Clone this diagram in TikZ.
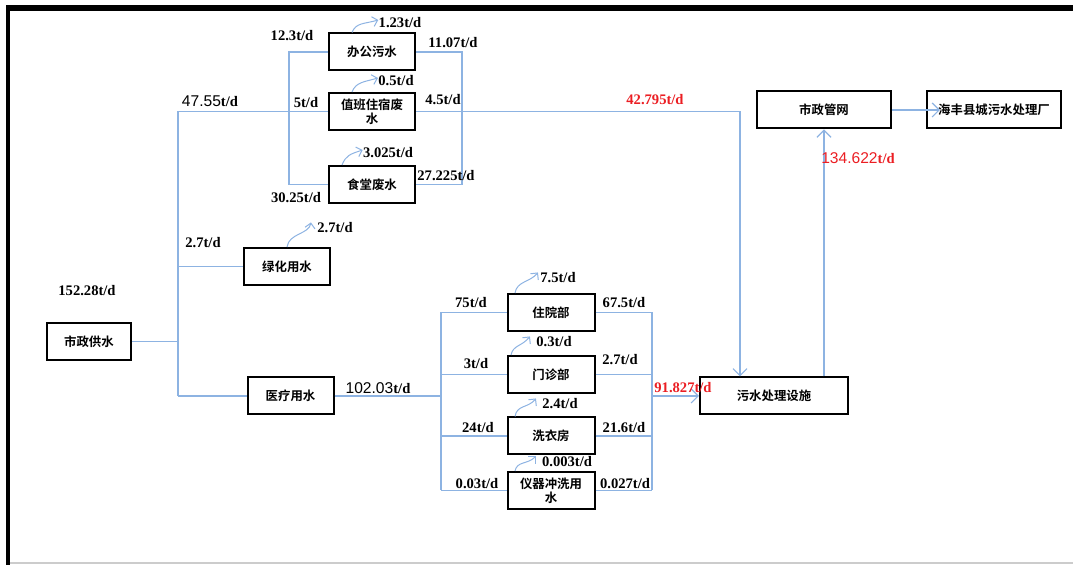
\documentclass[tikz,border=0pt]{standalone}
\usepackage{fontspec}
\setmainfont{Liberation Serif}
\newfontfamily\numsans{Liberation Sans}
\newfontfamily\cjk{Noto Sans CJK SC}[BoldFont={Noto Sans CJK SC Bold}]
\usepackage{tikz}
\usetikzlibrary{arrows.meta}
\definecolor{pipeblue}{RGB}{141,179,226}
\definecolor{lossred}{RGB}{235,30,35}
\newcommand{\sfnum}[1]{{\numsans\mdseries\fontsize{7.8}{9}\selectfont #1}}
\tikzset{%
  box/.style={%
    draw=black,
    line width=1pt,
    minimum width=43pt,
    minimum height=18.5pt,
    inner sep=1pt,
    align=center,
    font=\cjk\bfseries\fontsize{6.2}{7}\selectfont
  },
  pipe/.style={%
    draw=pipeblue,
    line width=0.6pt
  },
  flow/.style={%
    pipe,
    -{Straight Barb[length=3.5pt,width=7pt]}
  },
  wave/.style={%
    pipe,
    line width=0.5pt,
    -{Straight Barb[length=2.5pt,width=5pt]}
  },
  lab/.style={%
    font=\bfseries\fontsize{7.3}{8}\selectfont,
    inner sep=0pt
  },
  hot/.style={%
    lab,
    text=lossred
  }
}

\begin{document}
\begin{tikzpicture}[x=0.5pt,y=-0.5pt]
    \useasboundingbox (0,0) rectangle (1073,565);
    \fill[black] (6,5) rectangle (1073,11);
    \fill[black] (6,5) rectangle (10,565);
    \draw[black!20, line width=1pt] (10,563.5) -- (1073,563.5);

    % boxes
    \node[box] (gong) at (372,52) {办公污水};
    \node[box] (zhiban) at (372,111.5) {值班住宿废\\水};
    \node[box] (shitang) at (372,184.5) {食堂废水};
    \node[box] (lvhua) at (287,266.5) {绿化用水};
    \node[box, minimum width=42pt] (gongshui) at (89,341.5) {市政供水};
    \node[box] (yiliao) at (290.5,396) {医疗用水};
    \node[box, minimum width=43.5pt] (zhuyuan) at (551,312.5) {住院部};
    \node[box, minimum width=43.5pt] (menzhen) at (551,374.5) {门诊部};
    \node[box, minimum width=43.5pt] (xiyi) at (551,436) {洗衣房};
    \node[box, minimum width=43.5pt] (yiqi) at (551,490.5) {仪器冲洗用\\水};
    \node[box, minimum width=74pt] (wushui) at (774,396) {污水处理设施};
    \node[box, minimum width=67pt] (guanwang) at (824,110) {市政管网};
    \node[box, minimum width=67pt] (chang) at (994,110) {海丰县城污水处理厂};

    % supply trunk
    \coordinate (trunk) at (178,341.5);
    \draw[pipe] (gongshui) -- (trunk);
    \draw[pipe] (trunk |- zhiban.west) -- (trunk |- yiliao.west);
    \draw[pipe] (trunk |- zhiban.west) -- (zhiban);
    \draw[pipe] (trunk |- lvhua.west) -- (lvhua);
    \draw[pipe] (trunk |- yiliao.west) -- (yiliao);

    % living area
    \coordinate (lin) at (289,0);
    \coordinate (lout) at (462,0);
    \coordinate (bend) at (740,111.5);
    \draw[pipe] (gong.west) -| (lin |- shitang.west) -- (shitang.west);
    \draw[pipe] (gong.east) -| (lout |- shitang.east) -- (shitang.east);
    \draw[flow] (zhiban) -- (bend) -- (bend |- wushui.north);

    % hospital
    \coordinate (hin) at (441,396);
    \coordinate (hout) at (652,396);
    \draw[pipe] (yiliao) -- (hin);
    \draw[pipe] (hin |- zhuyuan.west) -- (hin |- yiqi.west);
    \draw[pipe] (hout |- zhuyuan.east) -- (hout |- yiqi.east);
    \foreach \n in {zhuyuan,menzhen,xiyi,yiqi} {
      \draw[pipe] (hin |- \n.west) -- (\n);
      \draw[pipe] (\n) -- (hout |- \n.east);
    }
    \draw[flow] (hout) -- (wushui);
    \draw[flow] (wushui.north -| guanwang.south) -- (guanwang);
    \draw[flow] (guanwang) -- ([xshift=7pt]chang.west);

    % flow labels
    \node[lab] (l152) at (87,291) {152.28t/d};
    \node[lab] (l4755) at (210,101) {\sfnum{47.55}t/d};
    \node[lab] (l123in) at (292,36) {12.3t/d};
    \node[lab] (l5) at (306,103) {5t/d};
    \node[lab] (l3025in) at (296,198) {30.25t/d};
    \node[lab] (l1107) at (453,43) {11.07t/d};
    \node[lab] (l45) at (443,100) {4.5t/d};
    \node[lab] (l27225) at (446,176) {27.225t/d};
    \node[lab] (l27) at (203,243) {2.7t/d};
    \node[lab] (l10203) at (378,388) {\sfnum{102.03}t/d};
    \node[lab] (l75) at (471,303) {75t/d};
    \node[lab] (l3) at (476,364) {3t/d};
    \node[lab] (l24) at (478,428) {24t/d};
    \node[lab] (l003) at (477,484) {0.03t/d};
    \node[lab] (l675) at (624,303) {67.5t/d};
    \node[lab] (l27m) at (620,360) {2.7t/d};
    \node[lab] (l216) at (624,428) {21.6t/d};
    \node[lab] (l0027) at (625,484) {0.027t/d};
    \node[hot] (l42795) at (655,100) {42.795t/d};
    \node[hot] (l91827) at (683,388) {91.827t/d};
    \node[hot] (l134) at (858,158) {\sfnum{134.622}t/d};

    % losses
    \node[lab] (l123) at (400,23) {1.23t/d};
    \node[lab] (l05) at (396,81) {0.5t/d};
    \node[lab] (l3025) at (388,153) {3.025t/d};
    \node[lab] (l27w) at (335,228) {2.7t/d};
    \node[lab] (l75w) at (558,278) {7.5t/d};
    \node[lab] (l03) at (554,342) {0.3t/d};
    \node[lab] (l24w) at (560,404) {2.4t/d};
    \node[lab] (l0003) at (567,462) {0.003t/d};
    \draw[wave] ([xshift=-10pt]gong.north) .. controls +(4,-10) and +(-14,4) .. ([yshift=1.5pt]l123.west);
    \draw[wave] ([xshift=-10pt]zhiban.north) .. controls +(4,-10) and +(-14,4) .. ([yshift=1.5pt]l05.west);
    \draw[wave] ([xshift=-15pt]shitang.north) .. controls +(4,-10) and +(-12,4) .. ([yshift=1.5pt]l3025.west);
    \draw[wave] (lvhua.north) .. controls +(2,-14) and +(-2,12) .. ([xshift=-3pt]l27w.north west);
    \draw[wave] ([xshift=-18pt]zhuyuan.north) .. controls +(2,-12) and +(-8,10) .. ([xshift=-1pt]l75w.north west);
    \draw[wave] ([xshift=-20pt]menzhen.north) .. controls +(2,-10) and +(-8,10) .. ([xshift=-3pt]l03.north west);
    \draw[wave] ([xshift=-18pt]xiyi.north) .. controls +(2,-12) and +(-8,10) .. ([xshift=-3pt]l24w.north west);
    \draw[wave] ([xshift=-18pt]yiqi.north) .. controls +(2,-10) and +(-8,8) .. ([xshift=-3pt]l0003.north west);
  \end{tikzpicture}
\end{document}
